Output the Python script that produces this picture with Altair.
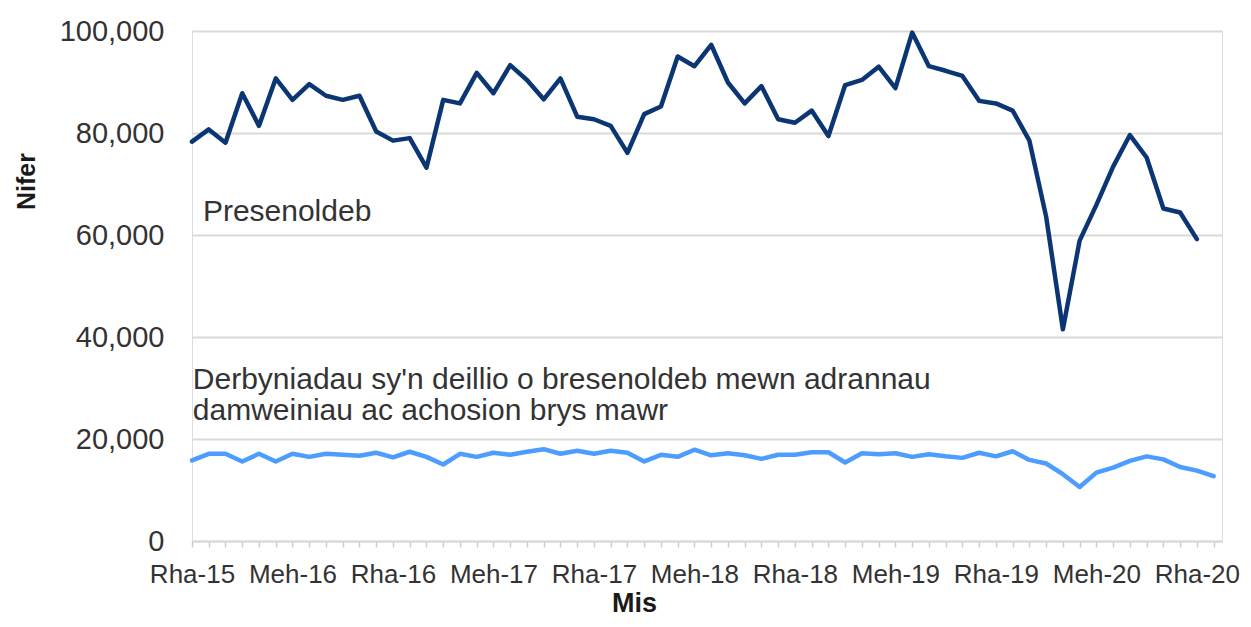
import json
import altair as alt
import pandas as pd

# Monthly series, Dec 2015 onwards (thousands)
attendances_k = [78.3, 80.7, 78.1, 87.8, 81.4, 90.7, 86.5, 89.6, 87.3, 86.5,
                 87.3, 80.3, 78.5, 79.0, 73.2, 86.5, 85.8, 91.8, 87.8, 93.3,
                 90.4, 86.6, 90.7, 83.2, 82.7, 81.4, 76.1, 83.7, 85.2, 95.0,
                 93.1, 97.3, 89.9, 85.8, 89.2, 82.7, 82.0, 84.4, 79.4, 89.4,
                 90.4, 93.0, 88.8, 99.7, 93.1, 92.2, 91.2, 86.3, 85.8, 84.4,
                 78.5, 63.6, 41.5, 58.9, 65.9, 73.4, 79.6, 75.2, 65.2, 64.4,
                 59.2]
admissions_k = [15.8, 17.1, 17.1, 15.6, 17.1, 15.6, 17.1, 16.5, 17.1, 16.9,
                16.7, 17.3, 16.4, 17.5, 16.5, 15.0, 17.1, 16.5, 17.3, 16.9,
                17.5, 18.0, 17.1, 17.7, 17.1, 17.7, 17.3, 15.6, 16.9, 16.5,
                17.9, 16.8, 17.2, 16.8, 16.1, 16.9, 16.9, 17.4, 17.4, 15.4,
                17.2, 17.0, 17.2, 16.5, 17.0, 16.6, 16.3, 17.3, 16.6, 17.6,
                15.9, 15.2, 13.1, 10.6, 13.4, 14.4, 15.7, 16.6, 16.0, 14.5,
                13.8, 12.7]

welsh_months = ["Ion", "Chw", "Maw", "Ebr", "Mai", "Meh",
                "Gor", "Aws", "Med", "Hyd", "Tach", "Rha"]
month_labels = [f"{welsh_months[(11 + i) % 12]}-{15 + (11 + i) // 12:02d}"
                for i in range(len(admissions_k))]

series_names = ["Presenoldeb", "Derbyniadau"]
series_colors = ["#0b3673", "#4d9cff"]
y_ticks = [0, 20000, 40000, 60000, 80000, 100000]

annot_text = ["Presenoldeb",
              "Derbyniadau sy'n deillio o bresenoldeb mewn adrannau\ndamweiniau ac achosion brys mawr"]
annot_x = [0.65, 0.05]
annot_y = [64500, 31500]

rows = []
for i, v in enumerate(attendances_k):
    rows.append({"idx": i, "value": v * 1000, "series": series_names[0]})
for i, v in enumerate(admissions_k):
    rows.append({"idx": i, "value": v * 1000, "series": series_names[1]})
df = pd.DataFrame(rows)
ann = pd.DataFrame({"x": annot_x, "y": annot_y, "t": annot_text})

FONT = "Liberation Sans"
TXT = "#333333"
GRID = "#d9d9d9"

label_expr = (f"datum.value % 6 == 0 ? {json.dumps(month_labels)}[datum.value] : ''")

x_scale = alt.Scale(domain=[0, 61.5], nice=False, zero=False)
y_scale = alt.Scale(domain=[0, 100000], nice=False)

lines = alt.Chart(df).mark_line(strokeWidth=4.5, strokeJoin="round", strokeCap="round").encode(
    x=alt.X("idx:Q", scale=x_scale,
            axis=alt.Axis(values=list(range(len(month_labels))), tickCount=200,
                          labelExpr=label_expr,
                          grid=False, domainColor=GRID, domainWidth=2,
                          tickColor="#cccccc", tickWidth=1.5, tickSize=6,
                          labelFont=FONT, labelFontSize=26, labelColor=TXT,
                          labelPadding=14, labelOverlap=False, labelFlush=False,
                          labelBound=False,
                          title="Mis", titleFont=FONT, titleFontSize=27,
                          titleFontWeight="bold", titleColor="#1a1a1a",
                          titleX=442, titleY=62, titleBaseline="middle",
                          titleAlign="center")),
    y=alt.Y("value:Q", scale=y_scale,
            axis=alt.Axis(values=y_ticks, format=",.0f", grid=True, gridColor=GRID,
                          gridWidth=2, domain=False, ticks=False,
                          labelFont=FONT, labelFontSize=29, labelColor=TXT,
                          labelPadding=28,
                          title="Nifer", titleFont=FONT, titleFontSize=25,
                          titleFontWeight="bold", titleColor="#1a1a1a",
                          titleAngle=-90, titleX=-166, titleY=150,
                          titleBaseline="middle", titleAlign="center")),
    color=alt.Color("series:N", scale=alt.Scale(domain=series_names, range=series_colors),
                    legend=None),
    detail="series:N",
)

labels = alt.Chart(ann).mark_text(align="left", baseline="middle", font=FONT,
                                  fontSize=30, color=TXT, lineHeight=31,
                                  lineBreak="\n").encode(
    x=alt.X("x:Q", scale=x_scale),
    y=alt.Y("y:Q", scale=y_scale),
    text="t:N",
)

chart = alt.layer(lines, labels).properties(
    width=1030, height=510,
    autosize=alt.AutoSizeParams(type="none"),
    padding={"left": 184, "top": 23, "right": 21, "bottom": 78},
).configure_view(stroke=None).configure(background="white")

chart.save("out.html", embed_options={"renderer": "svg", "actions": False})
